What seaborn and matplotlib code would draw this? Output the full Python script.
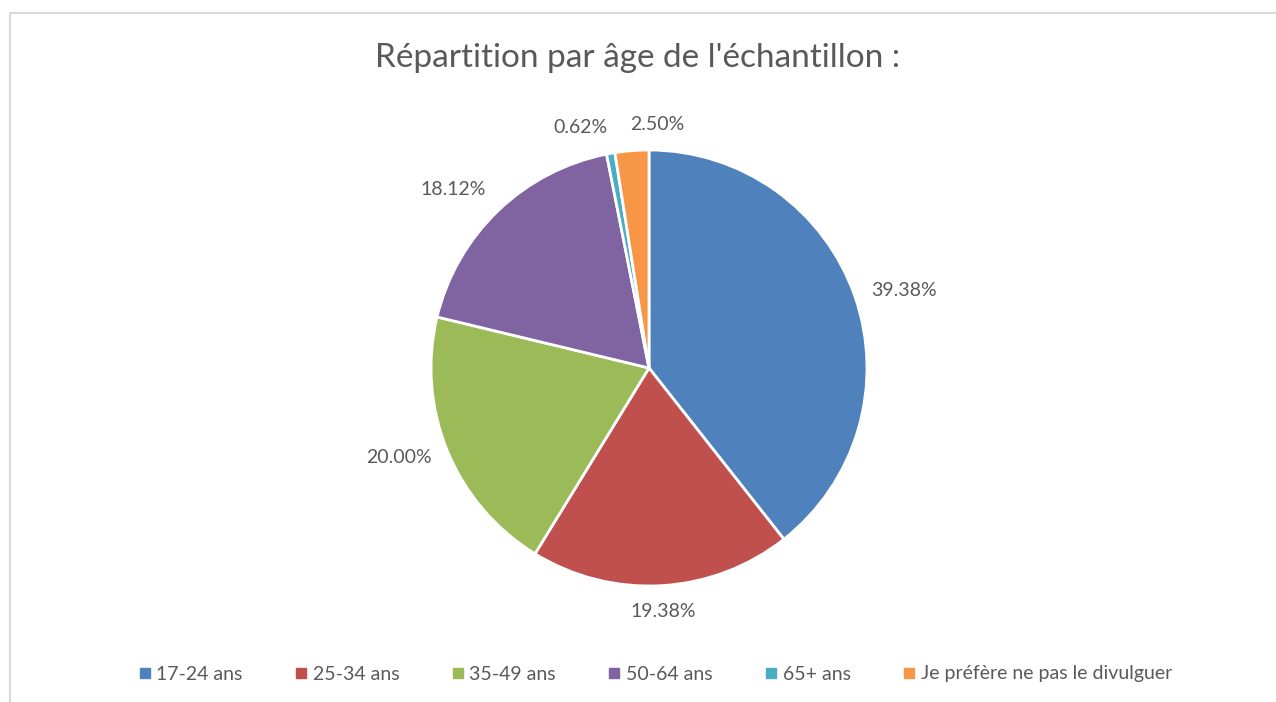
import matplotlib.pyplot as plt
import numpy as np
import seaborn as sns
from matplotlib.lines import Line2D

sns.set_theme(style="white")
plt.rcParams["font.family"] = ["Lato", "DejaVu Sans"]

# Données
categories = ["17-24 ans", "25-34 ans", "35-49 ans", "50-64 ans", "65+ ans",
              "Je préfère ne pas le divulguer"]
values = [39.38, 19.38, 20.00, 18.12, 0.62, 2.50]
colors = ["#4F81BD", "#C0504D", "#9BBB59", "#8064A2", "#4BACC6", "#F79646"]
title = "Répartition par âge de l'échantillon :"

TEXT = "#595959"

fig = plt.figure(figsize=(12.76, 7.02), dpi=100)

# cadre gris clair (haut + gauche visibles)
fig.add_artist(Line2D([10 / 1276, 10 / 1276], [0, 1 - 13 / 702],
                      color="#d9d9d9", lw=1.5, transform=fig.transFigure))
fig.add_artist(Line2D([10 / 1276, 1], [1 - 13 / 702, 1 - 13 / 702],
                      color="#d9d9d9", lw=1.5, transform=fig.transFigure))

r_px = 218
cx, cy = 649 / 1276, 1 - 368 / 702
w, h = 2 * r_px / 1276, 2 * r_px / 702
ax = fig.add_axes([cx - w / 2, cy - h / 2, w, h])

wedges, _ = ax.pie(values, colors=colors, startangle=90, counterclock=False,
                   wedgeprops=dict(edgecolor="white", linewidth=2))
ax.set_xlim(-1, 1)
ax.set_ylim(-1, 1)
ax.set_aspect("equal")
ax.axis("off")

# étiquettes à l'extérieur des secteurs
ha_override = {5: "left"}
for i, (wdg, v) in enumerate(zip(wedges, values)):
    ang = np.deg2rad((wdg.theta1 + wdg.theta2) / 2)
    c, s = np.cos(ang), np.sin(ang)
    x, y = 1.08 * c, 1.08 * s
    ha = "left" if c > 0.1 else ("right" if c < -0.1 else "center")
    va = "bottom" if s > 0.6 else ("top" if s < -0.6 else "center")
    ha = ha_override.get(i, ha)
    ax.text(x, y, f"{v:.2f}%", ha=ha, va=va, fontsize=14, color=TEXT)

fig.text(0.5, 1 - 58 / 702, title, ha="center", va="center",
         fontsize=24, color=TEXT)

handles = [Line2D([], [], marker="s", linestyle="", markersize=7,
                  markerfacecolor=col, markeredgecolor=col) for col in colors]
fig.legend(handles, categories, loc="center", ncol=6,
           bbox_to_anchor=(0.512, 1 - 674 / 702), frameon=False,
           fontsize=14, labelcolor=TEXT, handletextpad=0.1,
           columnspacing=2.5, handlelength=1.0)

fig.savefig("out.png", dpi=100, facecolor="white")
